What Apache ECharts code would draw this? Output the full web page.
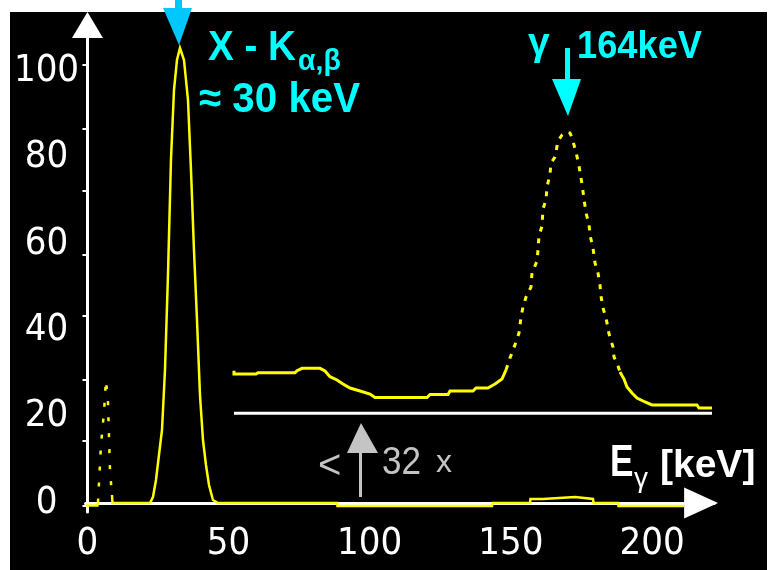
<!DOCTYPE html>
<html><head><meta charset="utf-8">
<script src="https://cdn.jsdelivr.net/npm/echarts@6/dist/echarts.min.js"></script>
<style>
html,body{margin:0;padding:0;background:#fff;}
#bg{position:absolute;left:10px;top:12px;width:757px;height:558px;background:#000;}
#chart{position:absolute;left:0;top:0;width:769px;height:570px;}
</style></head><body>
<div id="bg"></div><div id="chart"></div>
<script>
// ---- tick labels ----
const xTickLabels = [0, 50, 100, 150, 200];
const yTickLabels = [0, 20, 40, 60, 80, 100];
const yTickMarks = [-0.69, 14.35, 28.47, 43.29, 57.41, 72.22, 86.57, 101.39];

// ---- main spectrum (E in keV, relative counts) ----
const mainEnergy = [-0.53, 3.54, 3.72, 6.2, 8.68, 8.86, 22.14, 23.21, 24.27, 25.33, 26.40, 27.46, 28.52, 29.58, 30.65, 31.71, 32.77, 34.19, 35.61, 36.67, 37.73, 38.80, 39.86, 40.92, 41.98, 43.05, 44.46, 46.24, 88.40, 88.57, 143.31, 143.49, 156.77, 156.95, 161.38, 161.56, 172.72, 172.90, 179.10, 179.28, 187.96, 188.13, 211.34];
const mainCounts = [-0.58, -0.58, 0.12, null, 1.85, 0, 0, 1.39, 5.32, 11.11, 16.90, 30.79, 52.78, 79.40, 95.60, 102.55, 105.32, 102.55, 93.29, 77.08, 58.56, 42.36, 25.0, 14.58, 8.80, 4.17, 0.69, 0, 0, -0.69, -0.69, 0, 0, 0.93, 0.93, 1.39, 1.39, 0.93, 0.93, 0, 0, -0.69, -0.69];

// ---- low-energy spike (dotted in original) ----
const spikeEnergy = [3.72, 4.78, 5.85, 6.55, 7.26, 7.97, 8.68];
const spikeCounts = [0.12, 13.43, 21.06, 28.47, 23.38, 7.64, 1.85];

// ---- 32x magnified inset (plotted above its own baseline) ----
const insetLowEnergy = [51.90, 51.90, 59.70, 60.41, 73.52, 74.23, 76.00, 82.38, 84.15, 85.92, 88.40, 90.52, 93.00, 96.55, 100.09, 101.86, 120.29, 121.35, 127.73, 128.43, 136.58, 137.64, 141.89, 144.37, 146.85, 148.27];
const insetLowCounts = [30.63, 29.86, 29.86, 30.16, 30.16, 30.63, 31.18, 31.18, 30.56, 29.24, 28.47, 27.55, 26.62, 25.93, 25.23, 24.42, 24.42, 25.12, 25.12, 25.93, 25.93, 26.62, 26.62, 27.55, 28.70, 30.79];
const insetPeakEnergy = [148.27, 149.69, 150.75, 151.81, 152.88, 153.59, 154.30, 155.36, 157.13, 157.48, 159.26, 159.61, 159.96, 161.03, 161.38, 162.44, 162.80, 163.86, 164.22, 165.63, 166.70, 168.11, 169.53, 170.95, 171.66, 173.08, 174.14, 175.20, 175.91, 176.62, 177.68, 178.03, 179.10, 179.81, 180.87, 181.58, 181.93, 182.64, 183.70, 184.41, 184.77, 186.18, 186.54, 187.60, 188.66];
const insetPeakCounts = [30.79, 33.56, 35.42, 37.27, 39.35, 43.06, 45.37, 47.69, 50.00, 53.24, 56.02, 58.56, 61.81, 64.12, 68.06, 70.14, 73.15, 76.16, 78.70, 80.09, 83.80, 85.19, 85.88, 85.65, 84.49, 81.25, 78.01, 73.84, 70.37, 67.13, 64.58, 62.04, 59.03, 55.56, 53.24, 50.46, 47.92, 45.14, 42.82, 40.51, 39.12, 36.11, 33.80, 32.41, 30.32];
const insetTailEnergy = [188.66, 190.08, 191.14, 192.91, 194.69, 197.52, 200.00, 215.94, 216.65, 221.26];
const insetTailCounts = [30.32, 28.70, 26.85, 25.46, 24.31, 23.38, 22.69, 22.69, 21.99, 21.99];
const insetBaseEnergy = [51.90, 221.26];
const insetBaseCounts = [20.76, 20.76];

const zip = (a, b) => a.map((v, i) => [v, b[i]]);

const chart = echarts.init(document.getElementById('chart'), null, {renderer: 'canvas'});
const labelFont = "'Liberation Sans Narrow', 'DejaVu Sans Condensed', 'Liberation Sans', sans-serif";
const boldFont = "'Liberation Sans', Arial, sans-serif";
const yellow = '#ffff00';

function line(data, width, color, dash) {
  return {
    type: 'line', data: data, showSymbol: false, symbol: 'none', animation: false,
    lineStyle: {color: color, width: width, type: dash || 'solid', cap: 'butt', join: 'miter'},
    silent: true, clip: false
  };
}

chart.setOption({
  backgroundColor: 'transparent',
  animation: false,
  grid: {left: 85.5, right: 54.9, top: 25, bottom: 58, containLabel: false},
  xAxis: {
    type: 'value', min: -0.7, max: 222,
    axisLine: {show: true, lineStyle: {color: '#fff', width: 3}, symbol: ['none', 'triangle'], symbolSize: [31, 34], symbolOffset: [0, -13]},
    axisTick: {show: false},
    splitLine: {show: false},
    axisLabel: {customValues: xTickLabels, color: '#fff', fontFamily: labelFont, fontSize: 38, margin: 13}
  },
  yAxis: {
    type: 'value', min: -2.083, max: 110.65,
    axisLine: {show: true, lineStyle: {color: '#fff', width: 3}, symbol: ['none', 'triangle'], symbolSize: [31, 26]},
    axisTick: {show: true, customValues: yTickMarks, length: 5, lineStyle: {color: '#fff', width: 2}},
    splitLine: {show: false},
    axisLabel: {customValues: yTickLabels, color: '#fff', fontFamily: labelFont, fontSize: 38, margin: 39, align: 'center'}
  },
  series: [
    line(zip(insetBaseEnergy, insetBaseCounts), 3, '#ffffff'),
    line(zip(mainEnergy, mainCounts), 2.5, yellow),
    line(zip(spikeEnergy, spikeCounts), 2.5, yellow, [4, 12]),
    line(zip(insetLowEnergy, insetLowCounts), 3, yellow),
    line(zip(insetPeakEnergy, insetPeakCounts), 3, yellow, [5, 7]),
    line(zip(insetTailEnergy, insetTailCounts), 3, yellow)
  ],
  graphic: [
    // X-ray arrow
    {type: 'rect', shape: {x: 175, y: 0, width: 7, height: 9}, style: {fill: '#00c8ff'}, z: 10},
    {type: 'polygon', shape: {points: [[163, 8], [192, 8], [179, 45]]}, style: {fill: '#00c8ff'}, z: 10},
    // gamma arrow
    {type: 'rect', shape: {x: 565, y: 48, width: 5, height: 32}, style: {fill: '#00ffff'}, z: 10},
    {type: 'polygon', shape: {points: [[552, 79], [581, 79], [568, 116]]}, style: {fill: '#00ffff'}, z: 10},
    // gray magnification arrow
    {type: 'rect', shape: {x: 359, y: 452, width: 3, height: 45}, style: {fill: '#c4c4c4'}, z: 10},
    {type: 'polygon', shape: {points: [[347, 453], [378, 453], [361, 423]]}, style: {fill: '#c4c4c4'}, z: 10},
    // texts
    {type: 'text', x: 208, y: 48, scaleX: 0.92, z: 10, style: {text: 'X - K', fill: '#00ffff', font: 'bold 42px ' + boldFont, textAlign: 'left', textVerticalAlign: 'middle'}},
    {type: 'text', x: 298, y: 62, scaleX: 0.95, z: 10, style: {text: 'α‚β', fill: '#00ffff', font: 'bold 30px ' + boldFont, textAlign: 'left', textVerticalAlign: 'middle'}},
    {type: 'text', x: 199, y: 100, scaleX: 0.96, z: 10, style: {text: '≈ 30 keV', fill: '#00ffff', font: 'bold 42px ' + boldFont, textAlign: 'left', textVerticalAlign: 'middle'}},
    {type: 'text', x: 528, y: 44, z: 10, style: {text: 'γ', fill: '#00ffff', font: 'bold 39px ' + boldFont, textAlign: 'left', textVerticalAlign: 'middle'}},
    {type: 'text', x: 577, y: 47, scaleX: 0.93, z: 10, style: {text: '164keV', fill: '#00ffff', font: 'bold 39px ' + boldFont, textAlign: 'left', textVerticalAlign: 'middle'}},
    {type: 'text', x: 318, y: 467, z: 10, style: {text: '<', fill: '#c4c4c4', font: '40px ' + boldFont, textAlign: 'left', textVerticalAlign: 'middle'}},
    {type: 'text', x: 382, y: 463, scaleX: 0.9, z: 10, style: {text: '32', fill: '#c4c4c4', font: '39px ' + boldFont, textAlign: 'left', textVerticalAlign: 'middle'}},
    {type: 'text', x: 436, y: 463, z: 10, style: {text: 'x', fill: '#c4c4c4', font: '32px ' + boldFont, textAlign: 'left', textVerticalAlign: 'middle'}},
    {type: 'text', x: 610, y: 464, scaleX: 0.8, z: 10, style: {text: 'E', fill: '#ffffff', font: 'bold 44px ' + boldFont, textAlign: 'left', textVerticalAlign: 'middle'}},
    {type: 'text', x: 634, y: 479, z: 10, style: {text: 'γ', fill: '#ffffff', font: '28px ' + boldFont, textAlign: 'left', textVerticalAlign: 'middle'}},
    {type: 'text', x: 660, y: 466, z: 10, style: {text: '[keV]', fill: '#ffffff', font: 'bold 39px ' + boldFont, textAlign: 'left', textVerticalAlign: 'middle'}}
  ]
});
</script>
</body></html>
